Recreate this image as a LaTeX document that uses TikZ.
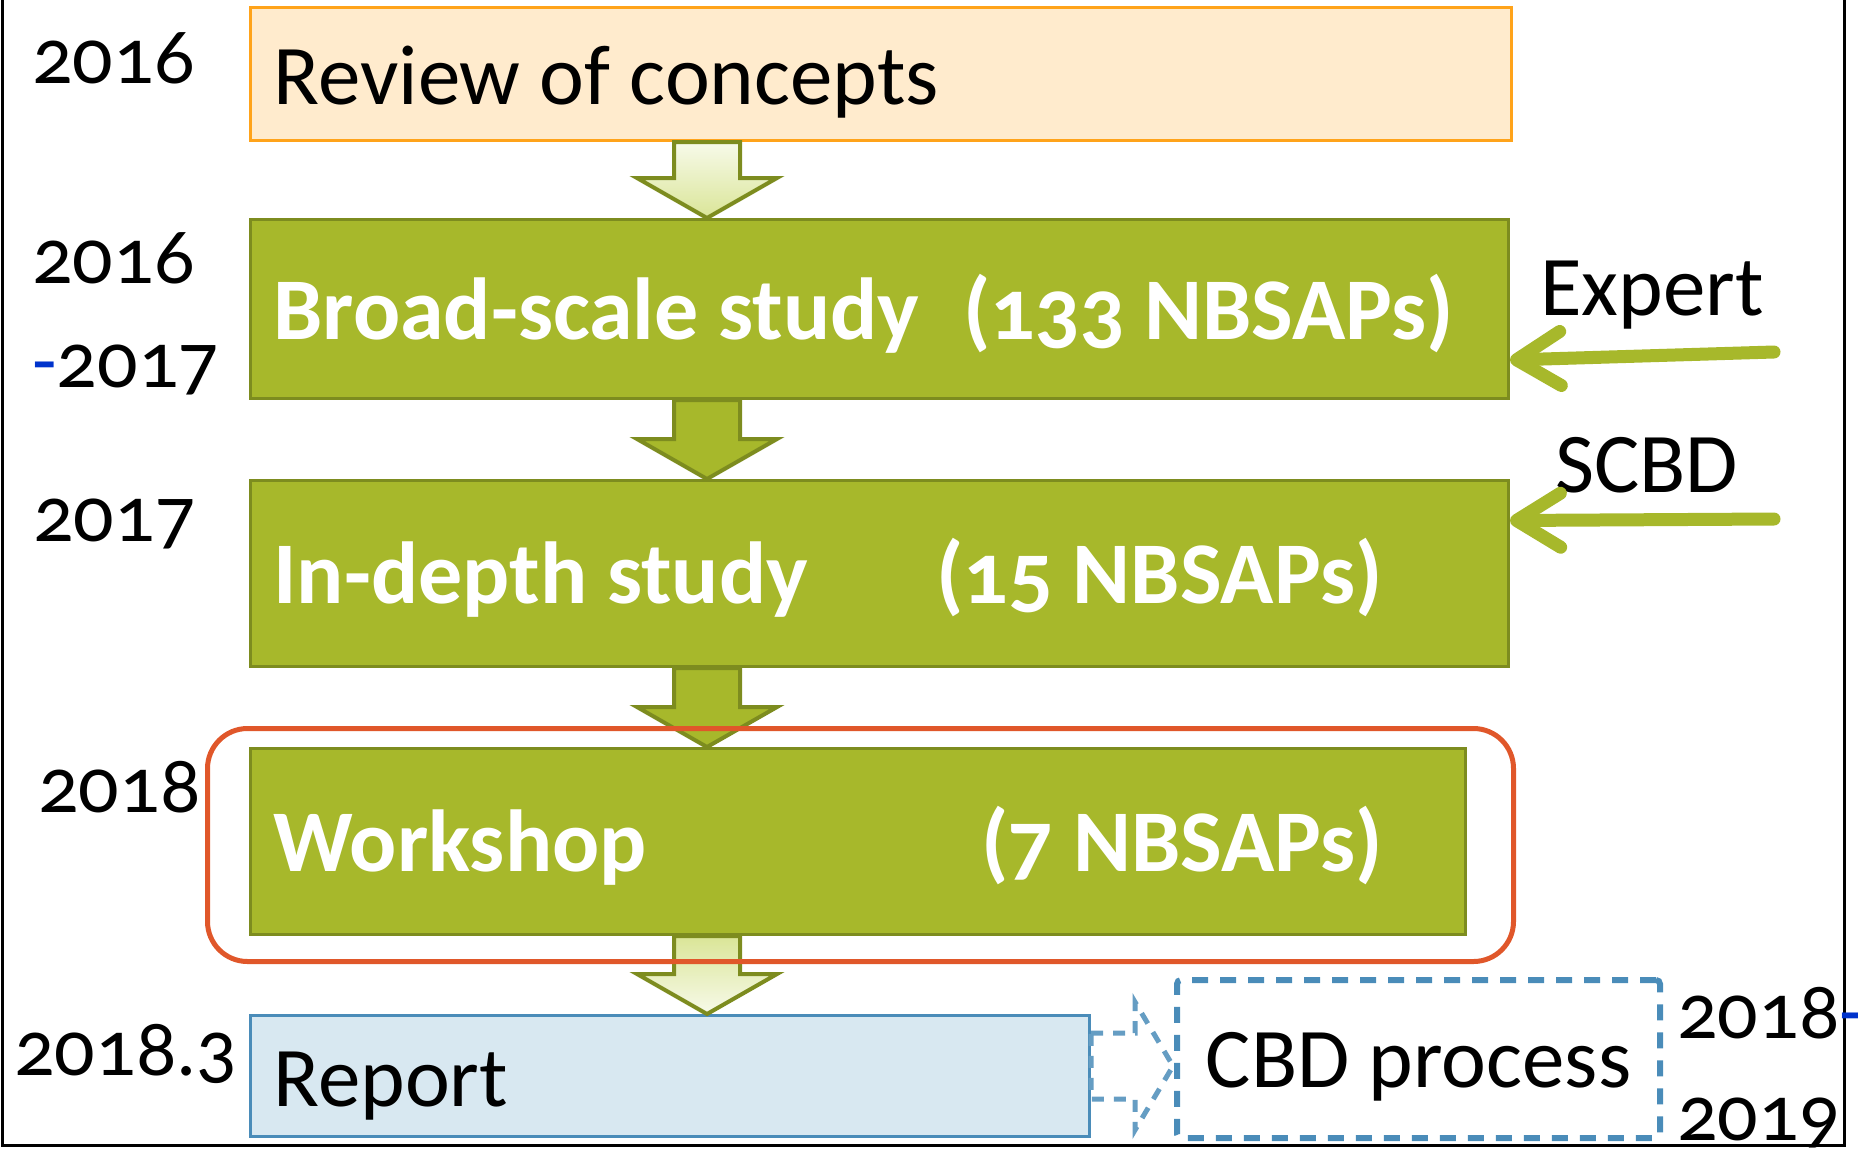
\documentclass[tikz,border=0pt]{standalone}
\usepackage{fontspec}
\setmainfont{Carlito}[Numbers=OldStyle]
\usetikzlibrary{calc,arrows.meta}

\definecolor{stagegreen}{HTML}{A7B82B}
\definecolor{stageedge}{HTML}{7D8C1F}
\definecolor{revieworange}{HTML}{FFA31A}
\definecolor{reviewfill}{HTML}{FFEBCD}
\definecolor{focusred}{HTML}{E0572A}
\definecolor{reportblue}{HTML}{4A8CB9}
\definecolor{reportfill}{HTML}{D8E8F1}
\definecolor{tickblue}{HTML}{0033CC}
\definecolor{arrowpale}{HTML}{F7FAEA}
\definecolor{arrowmid}{HTML}{DAE597}

\newcommand\labelsize{\fontsize{42.5}{50}\selectfont}
\newcommand\boldsize{\bfseries\fontsize{44}{52}\selectfont}
\newcommand\yearsize{\fontsize{40}{48}\selectfont}

% block arrow from the bottom of one box to the top of the next
\newcommand\flowarrow[3]{%
  \path[#1] ($(#2.south -| axis)+(-33,0)$) -- ($(#2.south -| axis)+(33,0)$)
    -- ($(#3.north -| axis)+(33,-40)$) -- ($(#3.north -| axis)+(70,-40)$)
    -- (#3.north -| axis) -- ($(#3.north -| axis)+(-70,-40)$)
    -- ($(#3.north -| axis)+(-33,-40)$) -- cycle;}

\tikzset{
  box/.style={anchor=north west, line width=1.5pt, inner xsep=11.5pt,
    inner ysep=0pt, align=flush left, font=\labelsize, text height=30pt, text depth=0pt},
  reviewbox/.style={box, draw=revieworange, fill=reviewfill},
  stagebox/.style={box, draw=stageedge, fill=stagegreen, text=white, font=\boldsize},
  reportbox/.style={box, draw=reportblue, fill=reportfill},
  countlabel/.style={anchor=west, inner sep=0pt, text=white, font=\boldsize,
    text height=30pt, text depth=0pt},
  yearlabel/.style={anchor=base west, inner sep=0pt, font=\yearsize},
  inputlabel/.style={anchor=base west, inner sep=0pt, font=\labelsize},
  feed/.style={draw=stagegreen, line width=6.5pt, line cap=round,
    -{Straight Barb[length=22pt,width=27pt,round]}},
  hollowdown/.style={draw=stageedge, line width=2pt, top color=arrowpale, bottom color=arrowmid},
  hollowup/.style={draw=stageedge, line width=2pt, top color=arrowmid, bottom color=arrowpale},
  solidarrow/.style={draw=stageedge, line width=2pt, fill=stagegreen},
  focusframe/.style={draw=focusred, line width=2.5pt, rounded corners=20pt, inner sep=0pt},
  processbox/.style={draw=reportblue, line width=3pt, dash pattern=on 8pt off 6pt,
    rounded corners=2pt, inner sep=0pt, font=\labelsize, text height=28pt, text depth=0pt},
  linkarrow/.style={draw=reportblue!85, line width=2.5pt, dash pattern=on 6pt off 5pt}
}

\begin{document}
\begin{tikzpicture}[x=0.5pt, y=-0.5pt]
\useasboundingbox (0,0) rectangle (1858,1152);
\draw [line width=1.5pt] (2,0) -- (2,1145) -- (1844,1145) -- (1844,0);

% stages
\node[reviewbox, text width=607.5pt, minimum height=66.5pt] (review) at (249,6) {Review of concepts};
\node[stagebox, text width=606pt, minimum height=89.5pt] (broad) at (249,218) {Broad-scale study};
\node[stagebox, text width=606pt, minimum height=93pt] (indepth) at (249,479) {In-depth study};
\node[stagebox, text width=584.5pt, minimum height=93pt] (workshop) at (249,747) {Workshop};
\node[reportbox, text width=396.5pt, minimum height=60.5pt] (report) at (249,1014) {Report};
\node[processbox, anchor=north west, minimum width=241.5pt, minimum height=79pt] (cbd) at (1174,977) {CBD process};

\node[countlabel] (broadcount) at ([xshift=357pt]broad.west) {(133 NBSAPs)};
\node[countlabel] (indepthcount) at ([xshift=343.5pt]indepth.west) {(15 NBSAPs)};
\node[countlabel] (workshopcount) at ([xshift=366pt]workshop.west) {(7 NBSAPs)};

% arrows between stages
\coordinate (axis) at (707,0);
\flowarrow{hollowdown}{review}{broad}
\flowarrow{solidarrow}{broad}{indepth}
\flowarrow{solidarrow}{indepth}{workshop}
\flowarrow{hollowup}{workshop}{report}

\node[focusframe, anchor=north west, minimum width=653pt, minimum height=116.5pt] (focus) at (205,726) {};

\draw[linkarrow] ($(report.east)+(0,-43)$) -- ++(44,0) -- ++(0,-31) -- ++(38,64)
  -- ++(-38,64) -- ++(0,-31) -- ++(-44,0) -- cycle;

% inputs
\node[inputlabel] (expert) at (1540,315) {Expert};
\node[inputlabel] (scbd) at (1555,492) {SCBD};
\coordinate (expertfrom) at (1774,352);
\coordinate (scbdfrom) at (1774,519);
\draw[feed] (expertfrom) -- ([yshift=-25.5pt]broad.east);
\draw[feed] (scbdfrom) -- ([yshift=26.5pt]indepth.east);

% years
\node[yearlabel] (year1) at (32,83) {2016};
\node[yearlabel] (year2) at (32,283) {2016};
\node[yearlabel] (year3) at (32,387) {\textcolor{tickblue}{-}2017};
\node[yearlabel] (year4) at (33,541) {2017};
\node[yearlabel] (year5) at (38,812) {2018};
\node[yearlabel] (year6) at (14,1075) {2018.3};
\node[yearlabel] (year7) at (1677,1038) {2018\textcolor{tickblue}{-}};
\node[yearlabel] (year8) at (1677,1140) {2019};
\end{tikzpicture}
\end{document}
